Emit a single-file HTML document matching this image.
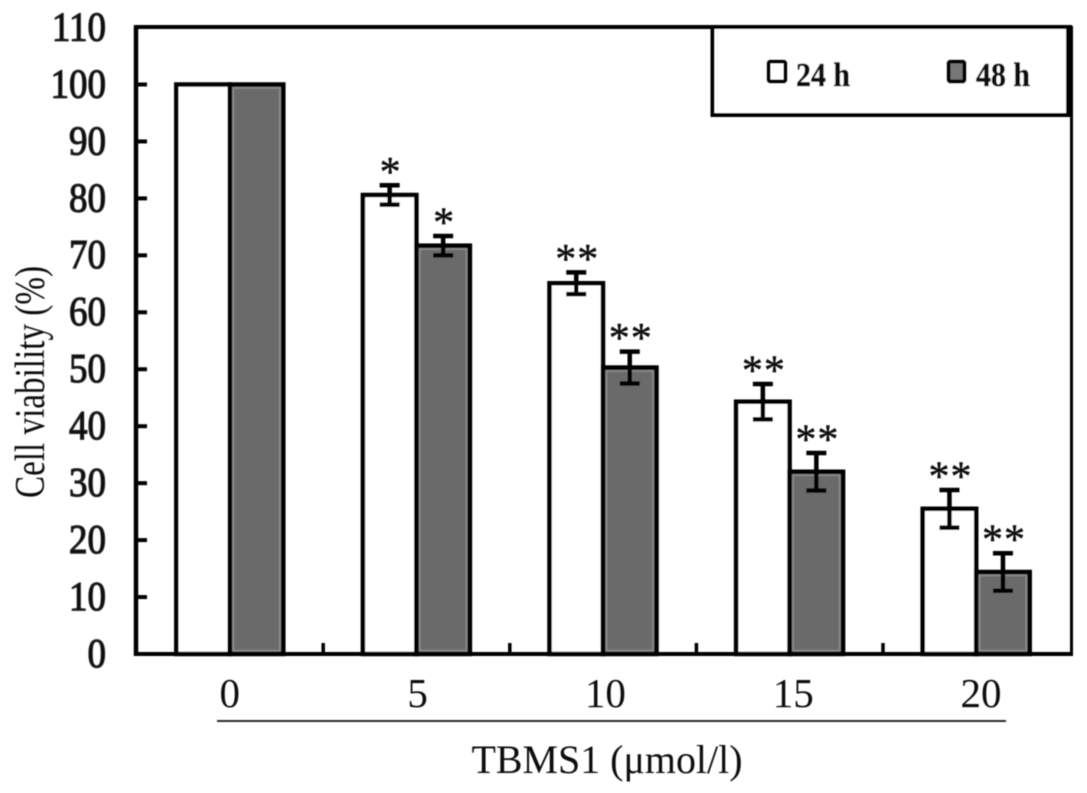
<!DOCTYPE html>
<html lang="en">
<head>
<meta charset="utf-8">
<title>Cell viability chart</title>
<style>
html,body{margin:0;padding:0;background:#fff;width:1087px;height:793px;overflow:hidden}
svg{display:block}
text{font-family:"Liberation Serif",serif;fill:#111}
</style>
</head>
<body>
<svg id="chart" width="1087" height="793" viewBox="0 0 1087 793" xmlns="http://www.w3.org/2000/svg">
  <defs>
    <filter id="soft" x="-2%" y="-2%" width="104%" height="104%"><feGaussianBlur stdDeviation="0.5"/></filter>
  </defs>
  <rect x="0" y="0" width="1087" height="793" fill="#fff"/>
  <g id="root" filter="url(#soft)">
    <g id="marks"></g>
    <g id="frame">
      <line x1="136" y1="25.5" x2="136" y2="656" stroke="#000" stroke-width="4.5"/>
      <line x1="134" y1="27" x2="1072" y2="27" stroke="#000" stroke-width="4"/>
      <line x1="134" y1="654" x2="1073" y2="654" stroke="#000" stroke-width="4"/>
      <line x1="1071.5" y1="26" x2="1071.5" y2="655" stroke="#000" stroke-width="3"/>
    </g>
    <g id="yaxis"></g>
    <g id="xaxis"></g>
    <line x1="217" y1="721" x2="1006" y2="721" stroke="#111" stroke-width="1.8"/>
    <text x="607" y="773" font-size="40" text-anchor="middle" textLength="271" lengthAdjust="spacingAndGlyphs">TBMS1 (μmol/l)</text>
    <text transform="translate(44,382) rotate(-90)" font-size="42" text-anchor="middle" textLength="232" lengthAdjust="spacingAndGlyphs">Cell viability (%)</text>
    <g>
      <rect x="712.5" y="27" width="357" height="88" fill="#fff" stroke="#000" stroke-width="4"/>
      <line x1="1068.5" y1="27" x2="1068.5" y2="115" stroke="#000" stroke-width="5"/>
      <rect x="768.5" y="61.5" width="17" height="20" rx="2" fill="#fff" stroke="#000" stroke-width="4"/>
      <text x="796" y="86" font-size="34" font-weight="bold" stroke="#111" stroke-width="0.5" textLength="54" lengthAdjust="spacingAndGlyphs">24 h</text>
      <rect x="948.5" y="61.5" width="16" height="20" rx="2" fill="#777" stroke="#000" stroke-width="4"/>
      <text x="976" y="86" font-size="34" font-weight="bold" stroke="#111" stroke-width="0.5" textLength="54" lengthAdjust="spacingAndGlyphs">48 h</text>
    </g>
  </g>
</svg>
<script>
const categories = ["0", "5", "10", "15", "20"];
const values24h = [100, 80.6, 65.1, 44.3, 25.5];
const values48h = [100, 71.7, 50.3, 32, 14.4];
const errors24h = [0, 1.7, 1.9, 3.1, 3.3];
const errors48h = [0, 1.7, 2.8, 3.3, 3.3];
const stars24h = ["", "*", "**", "**", "**"];
const stars48h = ["", "*", "**", "**", "**"];
const yTicks = [0, 10, 20, 30, 40, 50, 60, 70, 80, 90, 100, 110];

const NS = "http://www.w3.org/2000/svg";
const yScale = function (v) { return 654 - v * 5.695; };
const groupCenter = function (i) { return 229.8 + i * 186.6; };
const barWidth = 53.5;

function make(tag, attrs, parent, content) {
  const node = document.createElementNS(NS, tag);
  Object.keys(attrs).forEach(function (k) { node.setAttribute(k, attrs[k]); });
  if (content !== undefined) node.textContent = content;
  parent.appendChild(node);
  return node;
}

const marks = document.getElementById("marks");
const yaxis = document.getElementById("yaxis");
const xaxis = document.getElementById("xaxis");

yTicks.forEach(function (t) {
  const label = make("text", { x: 106, y: yScale(t) + 11.5, "font-size": 37, "text-anchor": "end", stroke: "#222", "stroke-width": 1.1, transform: "translate(0," + (yScale(t) * -0.12) + ") scale(1,1.12)" }, yaxis, String(t));
  
  
  if (t > 0 && t < 110) {
    const tick = make("line", { x1: 136, x2: 147, y1: yScale(t), y2: yScale(t), stroke: "#000", "stroke-width": 4 }, yaxis);
    
    
  }
});

categories.forEach(function (c, i) {
  const label = make("text", { x: groupCenter(i) + i * 1.2, y: 707, "font-size": 41, "text-anchor": "middle" }, xaxis, c);
  
  
  if (i < categories.length - 1) {
    const tx = groupCenter(i) + 93.4;
    const tick = make("line", { x1: tx, x2: tx, y1: 654, y2: 643, stroke: "#000", "stroke-width": 3.5 }, xaxis);
    
    
  }
});

function drawSeries(values, side, fill, seriesName) {
  values.forEach(function (v, i) {
    const left = side < 0 ? groupCenter(i) - barWidth : groupCenter(i);
    const top = yScale(v);
    const bar = make("rect", { x: left, y: top, width: barWidth, height: 654 - top, fill: fill, stroke: "#000", "stroke-width": 4.5 }, marks);
    
    
    if (side > 0) {
      const edge = make("rect", { x: left + 3.5, y: top + 3.5, width: barWidth - 7, height: 654 - top - 7, fill: "none", stroke: "#8c8c8c", "stroke-width": 1.5 }, marks);
      
      
    }
  });
}

function drawAnnotations(values, errors, stars, side, seriesName) {
  values.forEach(function (v, i) {
    const cx = groupCenter(i) + side * barWidth / 2;
    if (errors[i] > 0) {
      const hi = yScale(v + errors[i]);
      const lo = yScale(v - errors[i]);
      const stem = make("line", { x1: cx, x2: cx, y1: hi, y2: lo, stroke: "#000", "stroke-width": 4.5 }, marks);
      
      
      [hi, lo].forEach(function (y) {
        const cap = make("line", { x1: cx - 10, x2: cx + 10, y1: y, y2: y, stroke: "#000", "stroke-width": 4.5 }, marks);
        
        
      });
    }
    if (stars[i]) {
      const star = make("text", { x: cx + 1, y: yScale(v + errors[i]) + 0.5, "font-size": 42, "text-anchor": "middle", fill: "#000", stroke: "#000", "stroke-width": 0.4, "letter-spacing": 1 }, marks, stars[i]);
      
      
    }
  });
}

drawSeries(values24h, -1, "#fff", "series-24h");
drawSeries(values48h, 1, "#6b6b6b", "series-48h");
drawAnnotations(values24h, errors24h, stars24h, -1, "series-24h");
drawAnnotations(values48h, errors48h, stars48h, 1, "series-48h");
</script>
</body>
</html>
